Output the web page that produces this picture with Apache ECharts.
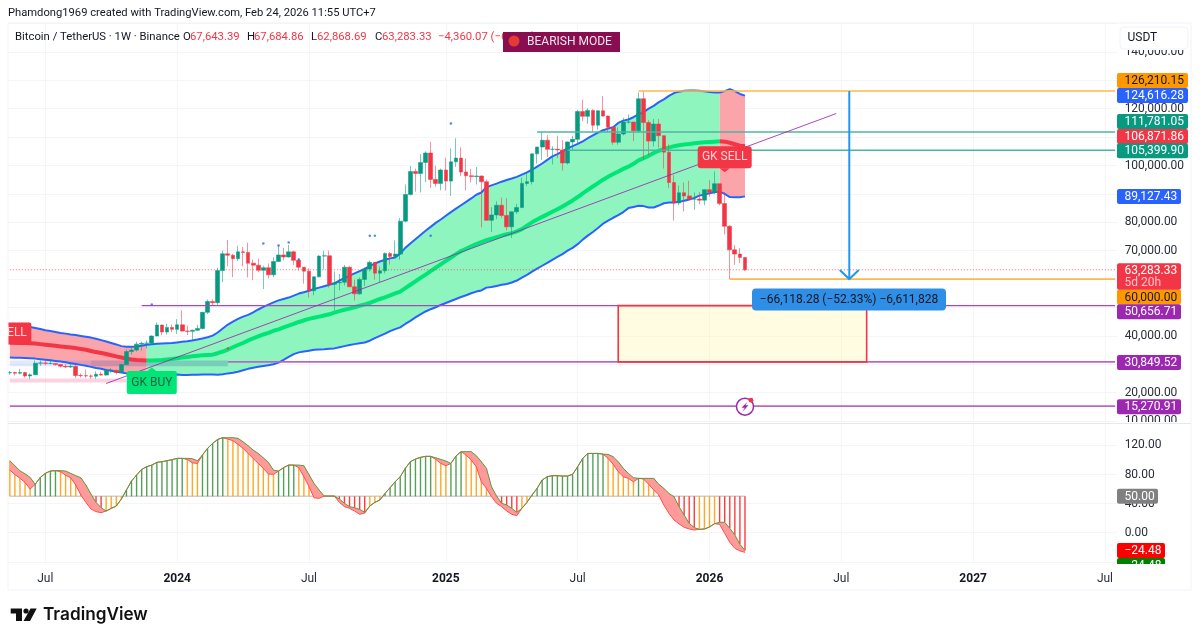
<!DOCTYPE html>
<html lang="en">
<head>
<meta charset="UTF-8">
<title>BTCUSDT 1W</title>
<script src="https://cdn.jsdelivr.net/npm/echarts@6/dist/echarts.min.js"></script>
<style>
html, body { margin: 0; padding: 0; background: #fff; }
#main { width: 1200px; height: 641px; }
</style>
</head>
<body>
<div id="main"></div>
<script>
// weekly bars in thousands of USDT, first bar is the week of 15 May 2023
var K = 1000;
var opens = [27.0,27.1,26.85,27.1,25.9,26.3,30.4,30.5,30.3,30.3,29.9,29.3,29.05,29.3,26.05,26.0,25.9,25.8,26.5,26.2,27.9,27.9,27.15,29.9,34.5,35.0,37.1,37.4,37.45,39.95,43.8,41.4,43.0,
  42.3,43.9,41.7,41.6,42.0,42.6,48.3,52.1,51.7,63.0,68.9,68.4,67.2,69.6,69.4,65.6,64.9,63.1,64.0,61.5,66.2,68.5,67.8,69.6,66.6,64.2,62.8,55.9,60.8,68.1,68.2,58.2,58.7,58.9,64.2,57.3,54.8,59.9,63.6,65.9,62.1,62.9,69.0,68.0,68.8,80.4,89.8,97.9,97.2,101.1,104.4,95.1,93.7,
  98.4,94.5,101.3,102.6,97.7,96.4,96.1,96.3,94.3,80.7,82.6,86.0,82.4,78.4,83.7,85.2,93.7,94.3,104.1,106.5,108.9,105.7,105.7,105.5,100.9,108.3,109.2,119.0,117.3,119.4,114.2,119.3,117.4,113.5,108.2,111.1,115.3,115.3,112.2,123.5,115.1,108.6,114.6,110.5,104.7,94.0,86.8,90.4,89.3,88.2,88.2,87.8,
  91.5,90.6,93.6,86.6,78.6,70.3,68.8,67.64];
var highs = [27.6,27.4,28.4,27.4,26.8,31.4,31.3,31.5,31.8,30.4,30.0,30.0,30.2,29.7,26.8,28.1,26.4,27.5,27.4,28.0,28.6,27.9,30.2,35.2,35.9,38.0,37.9,38.4,40.2,44.7,44.0,44.3,44.0,
  45.9,49.0,43.6,42.2,43.9,48.2,52.8,52.9,64.0,70.0,73.8,68.9,71.7,71.3,72.8,66.9,67.2,64.7,65.5,67.7,71.9,71.0,72.0,70.0,67.3,63.4,63.8,60.0,68.4,70.0,70.0,62.7,61.8,65.0,64.5,59.8,60.6,64.1,66.5,65.9,64.5,69.4,69.5,73.6,81.5,93.3,99.8,98.9,104.0,105.0,108.3,99.9,98.9,
  102.7,106.0,109.6,106.4,102.5,98.8,99.5,96.5,95.0,85.3,87.4,88.7,88.5,83.6,86.5,95.7,97.9,104.0,105.8,112.0,110.7,106.8,110.5,108.9,108.5,110.5,119.5,123.2,120.2,119.8,119.3,124.5,117.6,113.6,113.4,116.8,118.0,113.3,125.7,126.21,115.9,116.4,116.4,107.0,107.4,96.6,93.0,94.0,94.6,90.5,90.6,89.9,
  94.8,97.9,93.6,90.6,79.0,72.0,70.9,67.68];
var lows = [26.3,26.1,26.5,25.3,24.8,26.3,29.5,29.7,30.0,29.5,28.9,28.6,28.7,25.2,25.3,25.3,24.9,24.9,26.0,26.0,27.0,26.5,27.1,29.8,33.4,34.5,34.8,35.6,36.9,39.9,40.2,40.5,41.3,
  40.7,41.5,40.3,38.5,41.8,42.3,47.7,50.5,50.9,59.0,64.5,60.7,66.4,64.5,60.6,59.6,62.4,56.5,60.2,60.7,66.2,66.6,67.6,65.0,63.0,58.4,53.5,54.3,60.6,63.4,57.0,49.0,56.0,57.8,57.2,52.5,54.5,57.5,62.7,59.8,58.9,62.0,65.1,67.5,66.8,80.0,89.4,90.8,90.5,94.1,92.2,92.5,91.3,
  91.2,89.3,99.5,96.2,91.2,94.1,93.3,78.2,80.6,76.6,81.1,81.6,77.1,74.5,83.0,85.0,92.8,93.3,100.7,102.0,103.0,100.4,102.6,98.2,100.4,105.1,107.5,115.7,114.7,111.9,112.6,117.2,111.7,107.3,107.3,110.6,114.7,108.6,111.6,102.0,103.5,106.7,106.3,98.9,92.0,80.6,86.0,83.8,87.7,84.4,86.4,86.0,
  89.0,89.9,86.0,75.7,60.0,65.0,65.6,62.87];
var closes = [27.1,26.85,27.1,25.9,26.3,30.4,30.5,30.3,30.3,29.9,29.3,29.05,29.3,26.05,26.0,25.9,25.8,26.5,26.2,27.9,27.9,27.15,29.9,34.5,35.0,37.1,37.4,37.45,39.95,43.8,41.4,43.0,42.3,
  43.9,41.7,41.6,42.0,42.6,48.3,52.1,51.7,63.0,68.9,68.4,67.2,69.6,69.4,65.6,64.9,63.1,64.0,61.5,66.2,68.5,67.8,69.6,66.6,64.2,62.8,55.9,60.8,68.1,68.2,58.2,58.7,58.9,64.2,57.3,54.8,59.9,63.6,65.9,62.1,62.9,69.0,68.0,68.8,80.4,89.8,97.9,97.2,101.1,104.4,95.1,93.7,98.4,
  94.5,101.3,102.6,97.7,96.4,96.1,96.3,94.3,80.7,82.6,86.0,82.4,78.4,83.7,85.2,93.7,94.3,104.1,106.5,108.9,105.7,105.7,105.5,100.9,108.3,109.2,119.0,117.3,119.4,114.2,119.3,117.4,113.5,108.2,111.1,115.3,115.3,112.2,123.5,115.1,108.6,114.6,110.5,104.7,94.0,86.8,90.4,89.3,88.2,88.2,87.8,91.5,
  90.6,93.6,86.6,78.6,70.3,68.8,67.64,63.28];

// band around price, thousands of USDT
var bandUpper = [43.7,43.6,43.5,43.3,43.1,42.8,42.4,42.0,41.7,41.4,41.0,40.8,40.5,40.3,40.0,39.7,39.4,39.0,38.5,38.0,37.5,37.0,36.4,36.2,36.2,36.3,36.5,36.9,37.1,37.2,37.3,37.4,37.5,37.7,37.9,38.1,38.4,38.7,39.1,39.5,40.1,41.2,42.6,44.0,45.0,46.0,46.8,47.4,48.3,49.3,50.2,51.0,51.8,52.5,53.0,53.5,54.2,54.9,55.4,55.9,56.5,57.0,57.5,58.0,58.5,59.5,60.3,61.2,62.0,62.8,63.6,64.6,65.5,66.2,66.8,67.3,67.6,69.0,71.0,72.5,74.0,75.5,77.0,78.4,79.8,81.0,82.3,83.6,84.8,86.0,87.2,88.4,89.7,90.5,92.4,93.0,93.6,94.3,94.9,95.4,96.0,96.8,97.6,98.5,99.6,100.7,102.0,103.2,104.0,105.0,106.0,106.8,107.6,108.5,109.6,110.6,111.6,112.4,113.0,113.5,115.0,115.8,116.2,117.0,118.0,118.8,120.0,121.0,122.3,123.3,124.5,125.5,126.0,126.3,126.4,126.4,126.3,126.1,125.9,125.7,125.7,126.2,126.9,126.2,125.2,124.62];
var bandMiddle = [37.7,37.6,37.5,37.5,37.4,37.3,37.1,36.9,36.7,36.5,36.3,36.1,35.9,35.7,35.4,35.1,34.7,34.3,34.0,33.6,33.2,32.8,32.4,32.0,31.7,31.5,31.4,31.3,31.3,31.4,31.5,31.7,31.9,32.1,32.4,32.6,32.8,33.0,33.2,33.3,33.4,33.9,34.5,35.2,36.0,36.8,37.5,38.4,39.1,39.8,40.5,41.1,41.8,42.3,43.0,43.6,44.2,44.9,45.5,46.0,46.4,46.8,47.2,47.6,48.2,48.7,49.2,49.6,50.1,50.6,51.1,51.6,52.3,53.0,53.6,54.3,55.0,55.6,56.8,58.0,59.2,60.4,61.6,62.8,64.0,65.2,66.4,67.6,68.8,69.9,70.7,71.5,72.3,73.0,73.7,74.2,74.8,75.3,75.8,76.2,76.8,77.6,78.8,80.0,81.0,81.9,82.8,83.7,84.6,85.6,86.6,87.7,88.9,90.2,91.4,92.6,93.8,95.0,96.0,97.0,97.9,98.8,99.6,100.6,101.8,102.6,103.4,104.4,105.2,105.8,106.3,106.8,107.1,107.4,107.6,107.8,108.0,108.2,108.3,108.4,108.5,108.4,108.0,107.5,107.0,106.87];
var bandLower = [32.4,32.3,32.3,32.2,32.1,32.0,31.8,31.6,31.4,31.2,31.0,30.7,30.4,30.1,29.8,29.5,29.1,28.7,28.4,28.0,27.7,27.4,27.1,26.8,26.6,26.5,26.4,26.4,26.3,26.2,26.3,26.4,26.3,26.4,26.2,26.2,26.3,26.3,26.4,26.4,26.4,26.3,26.5,26.8,27.0,27.4,27.9,28.4,28.8,29.1,29.4,29.7,30.0,30.6,31.6,32.6,33.6,34.2,34.5,34.8,35.1,35.2,35.3,35.5,35.6,36.0,36.4,36.8,37.1,37.4,37.7,38.3,39.2,40.0,40.8,41.7,42.4,43.0,44.2,45.3,46.5,47.6,48.6,49.4,50.1,50.9,51.6,52.3,53.0,53.7,54.3,55.0,55.6,56.0,57.0,57.2,57.6,58.0,58.3,58.8,59.5,60.5,61.5,62.6,63.7,64.7,65.7,66.8,67.8,68.8,70.0,71.0,72.3,73.9,75.3,76.6,78.0,79.5,80.6,81.6,82.5,83.6,85.0,85.4,85.8,85.7,85.2,85.2,85.9,86.7,87.0,87.0,87.2,87.6,88.0,88.6,89.4,89.8,90.2,90.6,90.8,90.0,88.9,88.8,88.8,89.13];
var bullStart = 27, bullEnd = 140;

// oscillator, both edges of the red ribbon
var oscUpper = [99,92,85,81,76,66.5,76,81.6,84.8,85.3,85.3,84.8,81.6,78.4,75.6,65.6,53.2,41.7,34.4,29.8,33.5,36.7,46.3,58.7,71,79.3,87,90.8,93,96.7,97.6,99,100.4,102.2,102.2,102.2,101.7,99,106.8,116,122.8,128.3,130.6,130.6,130.6,129.7,125,119.6,113.6,109,103,96.7,86,84.8,89.4,93,93,93,92,80,67.8,58.7,50.4,50.4,50.4,46.3,40.4,35.8,34.4,32.1,28,36.7,41.7,45,54,61.9,70.1,77,88.5,97.6,101.3,103.6,105,105,103,100.8,98.5,95.3,105.4,111.4,111.4,111.4,105.9,97.6,88.5,63.3,50.4,40.4,38.1,33.5,28,33.5,41.7,51.8,61,72.4,77,78.4,78.4,77.9,77.9,80.2,90.7,102.2,109,109,109,108,107.7,104.5,97.6,88.5,81.6,75.6,74.7,74.7,74.7,74.7,66.5,61,54,49.5,35.8,24.3,12.9,7,4.6,5.1,7.9,12.4,14.3,14.3,6,-3.1,-16,-24.48];
var oscLower = [86,80,75,69,60,66.5,76,81.6,84.8,85.3,84,79,75.6,65.6,51.8,41.7,32.6,29,27.5,29.8,33.5,36.7,46.3,58.7,71,79.3,87,90.8,93,96.7,97.6,99,100.4,102.2,102.2,100.8,96,95.3,106.8,116,122.8,128.3,130.6,128.8,126.5,121.4,116,109,102,95.3,88.5,80.7,80.2,84.8,89.4,93,93,89.4,77,63.3,48,47.2,50.4,50.4,50.4,41.7,35.8,33.5,29.8,25.3,27,36.7,41.7,45,54,61.9,70.1,77,88.5,97.6,101.3,103.6,105,105,100.8,95.3,92,95.3,105.4,111.4,106.8,99.9,90.7,70,61,49.5,40.4,35.8,29.8,25.3,23.4,33.5,41.7,51.8,61,72.4,77,78.4,78.4,77.9,77.9,80.2,90.7,102.2,109,109,109,108,102.2,94,83.9,77,74.7,70,74.7,73.8,66.5,58.7,51.8,38,26.6,17.5,12,7.4,5.1,3.7,4.6,5.1,7.9,12.4,11.5,-0.9,-13.2,-21.5,-25,-27];
var oscMid = 50;

// tick labels
var xTicks = { 7: 'Jul', 33: '2024', 59: 'Jul', 86: '2025', 112: 'Jul', 138: '2026', 164: 'Jul', 190: '2027', 216: 'Jul' };
var yTicksMain = [140000, 120000, 100000, 80000, 70000, 40000, 20000, 10000];
var yTicksOsc = [120, 80, 40, 0];

// horizontal levels: start bar, price
var levelStart = [124, 104, 110, 142, 26, 43, 0];
var levelPrice = [126210.15, 111781.05, 105399.90, 60000, 50656.71, 30849.52, 15270.91];
var lastPrice = 63283.33;

var trendBars = [19, 163];
var trendPrices = [23240, 118300];

var dotBars = [28, 50, 53, 55, 57, 71, 72, 43, 29, 87, 83];
var dotPrices = [51100, 72500, 71800, 72900, 66900, 75300, 75300, 35600, 22200, 114800, 75300];

var measureBar = 165, measureTop = 126210.15, measureBottom = 60000;
var zoneBars = [120, 169], zonePrices = [50656.71, 30849.52];

// price scale tags
var tagValues = [126210.15, 124616.28, 111781.05, 106871.86, 105399.90, 89127.43, 60000, 50656.71, 30849.52, 15270.91];
var oscTagValues = [50, -24.48, -24.48];

var categories = [];
for (var w = 0; w < 219; w++) {
  categories.push(new Date(Date.UTC(2023, 4, 15 + w * 7)).toISOString().slice(0, 10));
}

var FONT = 'Roboto, sans-serif';
var UP = '#089981', DOWN = '#f23645', BLUE = '#2962ff', PURPLE = '#9c27b0', ORANGE = '#ff9800';
var INK = '#131722', AXIS = '#2a2e39', GRID = '#f4f5f7';
var levelStyle = [
  { color: '#ffb74d', width: 1.5 }, { color: '#4db6a0', width: 1.5 }, { color: '#4db6a0', width: 1.5 },
  { color: '#ffb74d', width: 1.6 }, { color: '#ab47bc', width: 1.3 }, { color: '#ba68c8', width: 1.6 }, { color: '#ba68c8', width: 1.6 }
];
var tagStyle = [
  { bg: ORANGE, fg: '#131722', shift: -10.5 }, { bg: BLUE, fg: '#fff', shift: 0 }, { bg: UP, fg: '#fff', shift: -10.5 },
  { bg: DOWN, fg: '#fff', shift: -9.5 }, { bg: UP, fg: '#fff', shift: 0.5 }, { bg: BLUE, fg: '#fff', shift: 0 },
  { bg: ORANGE, fg: '#131722', shift: 18 }, { bg: PURPLE, fg: '#fff', shift: 6 }, { bg: PURPLE, fg: '#fff', shift: 0.5 },
  { bg: PURPLE, fg: '#fff', shift: 0.5 }
];
var oscTagStyle = [
  { bg: '#808080', fg: '#fff', shift: 0 }, { bg: '#ff0000', fg: '#fff', shift: 0 }, { bg: '#008000', fg: '#fff', shift: 15 }
];

function money(v) {
  return v.toLocaleString('en-US', { minimumFractionDigits: 2, maximumFractionDigits: 2 });
}
function signed(v) {
  return (v < 0 ? '\u2212' : '') + money(Math.abs(v));
}
function tagEl(y, width, bg, fg, label) {
  return [
    { type: 'rect', shape: { x: 1117, y: y - 7.5, width: width, height: 15, r: 2 }, style: { fill: bg } },
    { type: 'text', style: { text: label, x: 1124.5, y: y + 0.5, fill: fg, font: '12px ' + FONT, align: 'left', verticalAlign: 'middle' } }
  ];
}
function anno(gridIdx, z, render) {
  return { type: 'custom', xAxisIndex: gridIdx, yAxisIndex: gridIdx, z: z, silent: true, data: [0], renderItem: render };
}
function levelSeries(a, b, v, color, width, type, z) {
  return {
    type: 'line', xAxisIndex: 0, yAxisIndex: 0, z: z || 6, silent: true, symbol: 'none',
    lineStyle: { color: color, width: width, type: type || 'solid' },
    data: [[a, v], [b, v]]
  };
}
function ribbon(api, upper, lower, from, to, scale) {
  var pts = [];
  for (var i = from; i <= to; i++) pts.push(api.coord([i, upper[i] * scale]));
  for (var j = to; j >= from; j--) pts.push(api.coord([j, lower[j] * scale]));
  return pts;
}
function withK(arr, from, to) {
  return arr.map(function (v, i) { return [i, (i >= from && i <= to) ? v * K : null]; });
}

var series = [];

// shaded band
series.push(anno(0, 1, function (p, api) {
  return {
    type: 'group',
    children: [
      { type: 'polygon', shape: { points: ribbon(api, bandUpper, bandLower, 0, bullStart, K) }, style: { fill: '#fba5ab' } },
      { type: 'polygon', shape: { points: ribbon(api, bandUpper, bandLower, bullStart, bullEnd, K) }, style: { fill: '#8ff5bf' } },
      { type: 'polygon', shape: { points: ribbon(api, bandUpper, bandLower, bullEnd, bandUpper.length - 1, K) }, style: { fill: '#fba5ab' } }
    ]
  };
}));

// faint drawings on the left
series.push(anno(0, 2, function (p, api) {
  function box(a, b, hi, lo, fill) {
    var s = api.coord([a, hi]), e = api.coord([b, lo]);
    return { type: 'rect', shape: { x: s[0], y: s[1], width: e[0] - s[0], height: e[1] - s[1] }, style: { fill: fill } };
  }
  return {
    type: 'group',
    children: [
      box(0, 16, 31300, 29300, 'rgba(41,98,255,0.14)'),
      box(16, 43, 31300, 29300, 'rgba(41,70,160,0.22)'),
      box(0, 23, 25000, 23600, 'rgba(233,30,99,0.20)')
    ]
  };
}));

series.push({
  name: 'upper', type: 'line', xAxisIndex: 0, yAxisIndex: 0, z: 3, silent: true, symbol: 'none',
  lineStyle: { color: BLUE, width: 2 }, data: bandUpper.map(function (v) { return v * K; })
});
series.push({
  name: 'lower', type: 'line', xAxisIndex: 0, yAxisIndex: 0, z: 3, silent: true, symbol: 'none',
  lineStyle: { color: BLUE, width: 2 }, data: bandLower.map(function (v) { return v * K; })
});
series.push({
  name: 'basis bear', type: 'line', xAxisIndex: 0, yAxisIndex: 0, z: 3, silent: true, symbol: 'none',
  lineStyle: { color: DOWN, width: 4 }, data: withK(bandMiddle, 0, bullStart)
});
series.push({
  name: 'basis bull', type: 'line', xAxisIndex: 0, yAxisIndex: 0, z: 3, silent: true, symbol: 'none',
  lineStyle: { color: '#00e676', width: 4 }, data: withK(bandMiddle, bullStart, bullEnd)
});
series.push({
  name: 'basis bear 2', type: 'line', xAxisIndex: 0, yAxisIndex: 0, z: 3, silent: true, symbol: 'none',
  lineStyle: { color: DOWN, width: 4 }, data: withK(bandMiddle, bullEnd, bandMiddle.length - 1)
});

// levels
levelPrice.forEach(function (v, i) {
  series.push(levelSeries(levelStart[i], 218, v, levelStyle[i].color, levelStyle[i].width));
});
series.push(levelSeries(0, 218, lastPrice, 'rgba(242,54,69,0.75)', 1, [1, 2], 4));

series.push({
  name: 'trend', type: 'line', xAxisIndex: 0, yAxisIndex: 0, z: 6, silent: true, symbol: 'none',
  lineStyle: { color: PURPLE, width: 1, opacity: 0.85 },
  data: [[trendBars[0], trendPrices[0]], [trendBars[1], trendPrices[1]]]
});

series.push({
  name: 'BTCUSDT', type: 'candlestick', xAxisIndex: 0, yAxisIndex: 0, z: 5, barWidth: 4.2, silent: true,
  itemStyle: { color: UP, color0: DOWN, borderColor: 'rgba(8,153,129,0.55)', borderColor0: 'rgba(242,54,69,0.55)', borderWidth: 1 },
  data: opens.map(function (o, i) { return [o * K, closes[i] * K, lows[i] * K, highs[i] * K]; })
});

series.push({
  name: 'dots', type: 'scatter', xAxisIndex: 0, yAxisIndex: 0, z: 6, silent: true, symbolSize: 2.5,
  itemStyle: { color: function (p) { return p.dataIndex === 6 ? UP : (p.dataIndex === 7 ? DOWN : BLUE); } },
  data: dotBars.map(function (b, i) { return [b, dotPrices[i]]; })
});

// target zone and measure arrow
series.push(anno(0, 7, function (p, api) {
  var a = api.coord([zoneBars[0], zonePrices[0]]), b = api.coord([zoneBars[1], zonePrices[1]]);
  return { type: 'rect', shape: { x: a[0], y: a[1], width: b[0] - a[0], height: b[1] - a[1] },
    style: { fill: 'rgba(255,245,170,0.35)', stroke: '#f23645', lineWidth: 1.6 } };
}));
series.push(anno(0, 8, function (p, api) {
  var t = api.coord([measureBar, measureTop]), b = api.coord([measureBar, measureBottom]);
  var x = t[0] + 2.9;
  var st = { stroke: '#2196f3', lineWidth: 2, fill: 'none' };
  return {
    type: 'group',
    children: [
      { type: 'line', shape: { x1: x, y1: t[1], x2: x, y2: b[1] }, style: st },
      { type: 'polyline', shape: { points: [[x - 9.5, b[1] - 9], [x, b[1]], [x + 9.5, b[1] - 9]] }, style: st },
      { type: 'rect', shape: { x: 752, y: b[1] + 9.5, width: 194, height: 22, r: 4 }, style: { fill: '#2f8ee5' } },
      { type: 'text', style: { text: '\u221266,118.28 (\u221252.33%) \u22126,611,828', x: 849, y: b[1] + 21, fill: INK, font: '12px ' + FONT, align: 'center', verticalAlign: 'middle' } }
    ]
  };
}));

// signal labels
series.push(anno(0, 9, function (p, api) {
  var sell = api.coord([141, 97600]), buy = api.coord([28, 28900]), left = api.coord([0, 37700]);
  var sx = sell[0], sy = sell[1], bx = buy[0], by = buy[1];
  return {
    type: 'group',
    children: [
      { type: 'rect', shape: { x: sx - 27, y: sy - 26, width: 54, height: 22, r: 3 }, style: { fill: DOWN } },
      { type: 'polygon', shape: { points: [[sx - 5, sy - 4], [sx + 5, sy - 4], [sx, sy]] }, style: { fill: DOWN } },
      { type: 'text', style: { text: 'GK SELL', x: sx, y: sy - 15, fill: '#ffd5d8', font: '12px ' + FONT, align: 'center', verticalAlign: 'middle' } },
      { type: 'rect', shape: { x: bx - 25, y: by + 3.5, width: 50, height: 23, r: 2 }, style: { fill: '#00e676' } },
      { type: 'polygon', shape: { points: [[bx - 5, by + 4], [bx + 5, by + 4], [bx, by]] }, style: { fill: '#00e676' } },
      { type: 'text', style: { text: 'GK BUY', x: bx, y: by + 15.5, fill: '#2e5d45', font: '12px ' + FONT, align: 'center', verticalAlign: 'middle' } },
      { type: 'rect', shape: { x: left[0] - 8, y: left[1] - 20, width: 29.5, height: 22, r: 2 }, style: { fill: DOWN } },
      { type: 'text', style: { text: 'SELL', x: left[0] + 17, y: left[1] - 9, fill: '#ffd5d8', font: '12px ' + FONT, align: 'right', verticalAlign: 'middle' } }
    ]
  };
}));

// alert icon on the lowest level
series.push(anno(0, 9, function (p, api) {
  var c = api.coord([145, 15270.91]);
  return {
    type: 'group',
    children: [
      { type: 'circle', shape: { cx: c[0], cy: c[1] + 0.5, r: 8.5 }, style: { fill: '#fff', stroke: PURPLE, lineWidth: 1.5 } },
      { type: 'polygon', shape: { points: [[c[0] + 2.5, c[1] - 4.5], [c[0] - 3.5, c[1] + 1.5], [c[0] - 0.3, c[1] + 1.5], [c[0] - 2.5, c[1] + 5.5], [c[0] + 3.5, c[1] - 0.8], [c[0] + 0.4, c[1] - 0.8]] }, style: { fill: PURPLE } },
      { type: 'circle', shape: { cx: c[0] + 6, cy: c[1] - 6, r: 2.4 }, style: { fill: '#f23645' } }
    ]
  };
}));

// price scale tags
series.push(anno(0, 20, function (p, api) {
  var kids = [];
  tagValues.forEach(function (v, i) {
    var y = api.coord([0, v])[1] + tagStyle[i].shift;
    kids = kids.concat(tagEl(y, v >= 100000 ? 71 : 64, tagStyle[i].bg, tagStyle[i].fg, money(v)));
  });
  var ly = api.coord([0, lastPrice])[1];
  kids.push({ type: 'rect', shape: { x: 1117, y: ly - 6.5, width: 64, height: 26.5, r: 2 }, style: { fill: DOWN } });
  kids.push({ type: 'text', style: { text: money(lastPrice), x: 1124.5, y: ly + 1, fill: '#fff', font: '12px ' + FONT, align: 'left', verticalAlign: 'middle' } });
  kids.push({ type: 'text', style: { text: '5d 20h', x: 1124.5, y: ly + 13, fill: '#ffc5ca', font: '12px ' + FONT, align: 'left', verticalAlign: 'middle' } });
  return { type: 'group', children: kids };
}));

// oscillator histogram
series.push({
  name: 'hist', type: 'custom', xAxisIndex: 1, yAxisIndex: 1, z: 2, silent: true,
  data: oscUpper.map(function (v, i) { return [i, v]; }),
  renderItem: function (p, api) {
    var i = p.dataIndex;
    var falling = oscUpper[i] - oscLower[i] > 0.01;
    var color = oscUpper[i] >= oscMid ? (falling ? '#ff9800' : '#388e3c') : (falling ? '#ff1a1a' : '#ff9800');
    var a = api.coord([i, oscMid]), b = api.coord([i, oscUpper[i]]);
    return { type: 'line', shape: { x1: a[0], y1: a[1], x2: b[0], y2: b[1] }, style: { stroke: color, lineWidth: 1.4, opacity: 0.85 } };
  }
});
series.push({
  name: 'mid', type: 'line', xAxisIndex: 1, yAxisIndex: 1, z: 1, silent: true, symbol: 'none',
  lineStyle: { color: '#cfcfcf', width: 1.5 }, data: [[0, oscMid], [145, oscMid]]
});
series.push(anno(1, 3, function (p, api) {
  return { type: 'polygon', shape: { points: ribbon(api, oscUpper, oscLower, 0, oscUpper.length - 1, 1) }, style: { fill: '#ff9a9a' } };
}));
series.push({
  name: 'osc lower', type: 'line', xAxisIndex: 1, yAxisIndex: 1, z: 4, silent: true, symbol: 'none',
  lineStyle: { color: '#ff4d4d', width: 1 }, data: oscLower
});
series.push({
  name: 'osc upper', type: 'line', xAxisIndex: 1, yAxisIndex: 1, z: 4, silent: true, symbol: 'none',
  lineStyle: { color: '#5b9a3a', width: 1 }, data: oscUpper
});
series.push(anno(1, 20, function (p, api) {
  var kids = [];
  oscTagValues.forEach(function (v, i) {
    var y = api.coord([0, v])[1] + oscTagStyle[i].shift;
    kids = kids.concat(tagEl(y, v > 0 ? 41 : 48, oscTagStyle[i].bg, oscTagStyle[i].fg, signed(v)));
  });
  return { type: 'group', children: kids };
}));

function headerText(x, text, fill) {
  return { type: 'text', z: 100, style: { text: text, x: x, y: 37.5, fill: fill, font: '11.3px ' + FONT, textVerticalAlign: 'middle' } };
}

var chart = echarts.init(document.getElementById('main'), null, { renderer: 'canvas' });
chart.setOption({
  animation: false,
  backgroundColor: '#fff',
  grid: [
    { left: 7.3, top: 23.5, width: 1110.33, height: 397.6 },
    { left: 7.3, top: 423.6, width: 1110.33, height: 138.2 }
  ],
  xAxis: [0, 1].map(function (g) {
    return {
      type: 'category', gridIndex: g, data: categories,
      axisLine: { show: false }, axisTick: { show: false },
      splitLine: { show: true, alignWithLabel: true, lineStyle: { color: GRID, width: 1 },
        interval: function (i) { return xTicks[i] !== undefined; } },
      axisLabel: {
        show: g === 1, margin: 11, color: AXIS, fontFamily: FONT, fontSize: 12,
        interval: function (i) { return xTicks[i] !== undefined; },
        formatter: function (v, i) {
          var t = xTicks[i];
          if (t === undefined) return '';
          return t === 'Jul' ? t : '{y|' + t + '}';
        },
        rich: { y: { fontFamily: FONT, fontSize: 12, fontWeight: 700, color: INK } }
      }
    };
  }),
  yAxis: [
    {
      type: 'value', gridIndex: 0, position: 'right', min: 10000, max: 150000, interval: 10000,
      axisLine: { show: false }, axisTick: { show: false },
      splitLine: { lineStyle: { color: GRID, width: 1 } },
      axisLabel: {
        margin: 7, color: AXIS, fontFamily: FONT, fontSize: 12, align: 'left', padding: [4, 0, 0, 0],
        formatter: function (v) { return yTicksMain.indexOf(v) >= 0 ? money(v) : ''; }
      }
    },
    {
      type: 'value', gridIndex: 1, position: 'right', min: -40, max: 150, interval: 40,
      axisLine: { show: false }, axisTick: { show: false },
      splitLine: { lineStyle: { color: GRID, width: 1 } },
      axisLabel: {
        margin: 7, color: AXIS, fontFamily: FONT, fontSize: 12, align: 'left', padding: [4, 0, 0, 0],
        formatter: function (v) { return yTicksOsc.indexOf(v) >= 0 ? money(v) : ''; }
      }
    }
  ],
  series: series,
  graphic: { elements: [
    // masks for the clipped left edge, pane edge and bottom
    { type: 'rect', z: 90, shape: { x: 0, y: 0, width: 8, height: 641 }, style: { fill: '#fff' } },
    { type: 'rect', z: 90, shape: { x: 1116, y: 0, width: 84, height: 50 }, style: { fill: '#fff' } },
    { type: 'rect', z: 90, shape: { x: 1117, y: 422, width: 74, height: 8 }, style: { fill: '#fff' } },
    { type: 'rect', z: 90, shape: { x: 1117, y: 564, width: 74, height: 12 }, style: { fill: '#fff' } },
    { type: 'rect', z: 91, shape: { x: 8, y: 23, width: 1183, height: 567 }, style: { fill: 'none', stroke: '#f0f3fa', lineWidth: 1 } },
    { type: 'line', z: 91, shape: { x1: 8, y1: 423.5, x2: 1191, y2: 423.5 }, style: { stroke: '#e6e8ee', lineWidth: 1 } },
    { type: 'rect', z: 92, shape: { x: 1120, y: 27, width: 68, height: 22, r: 4 }, style: { fill: '#fff', stroke: '#f0f3fa', lineWidth: 1 } },
    { type: 'text', z: 100, style: { text: 'USDT', x: 1127.5, y: 38, fill: INK, font: '12px ' + FONT, textVerticalAlign: 'middle' } },
    { type: 'text', z: 100, style: { text: 'Phamdong1969 created with TradingView.com, Feb 24, 2026 11:55 UTC+7', x: 8, y: 13, fill: INK, font: '11.2px ' + FONT, textVerticalAlign: 'middle' } },
    headerText(15, 'Bitcoin / TetherUS \u00b7 1W \u00b7 Binance', INK),
    headerText(183, 'O', INK), headerText(190, '67,643.39', DOWN),
    headerText(247, 'H', INK), headerText(254, '67,684.86', DOWN),
    headerText(311, 'L', INK), headerText(317, '62,868.69', DOWN),
    headerText(375, 'C', INK), headerText(382, '63,283.33', DOWN),
    headerText(438, '\u22124,360.07 (\u22126.45%)', DOWN),
    { type: 'rect', z: 101, shape: { x: 503, y: 32, width: 117, height: 20 }, style: { fill: '#880e4f' } },
    { type: 'circle', z: 102, shape: { cx: 514, cy: 41, r: 5.5 }, style: { fill: '#e53935' } },
    { type: 'text', z: 102, style: { text: 'BEARISH MODE', x: 527, y: 42, fill: '#f0e6ec', font: '12px ' + FONT, textVerticalAlign: 'middle' } },
    // TradingView mark
    { type: 'polygon', z: 100, shape: { points: [[10.7, 608.5], [22, 608.5], [22, 621], [16, 621], [16, 613.5], [10.7, 613.5]] }, style: { fill: '#111' } },
    { type: 'circle', z: 100, shape: { cx: 26, cy: 611, r: 2.6 }, style: { fill: '#111' } },
    { type: 'polygon', z: 100, shape: { points: [[30.5, 608.5], [36.7, 608.5], [30, 621], [23.5, 621]] }, style: { fill: '#111' } },
    { type: 'text', z: 100, style: { text: 'TradingView', x: 43, y: 615, fill: '#111', font: '600 17.2px Inter, ' + FONT, textVerticalAlign: 'middle' } }
  ] }
});
</script>
</body>
</html>
